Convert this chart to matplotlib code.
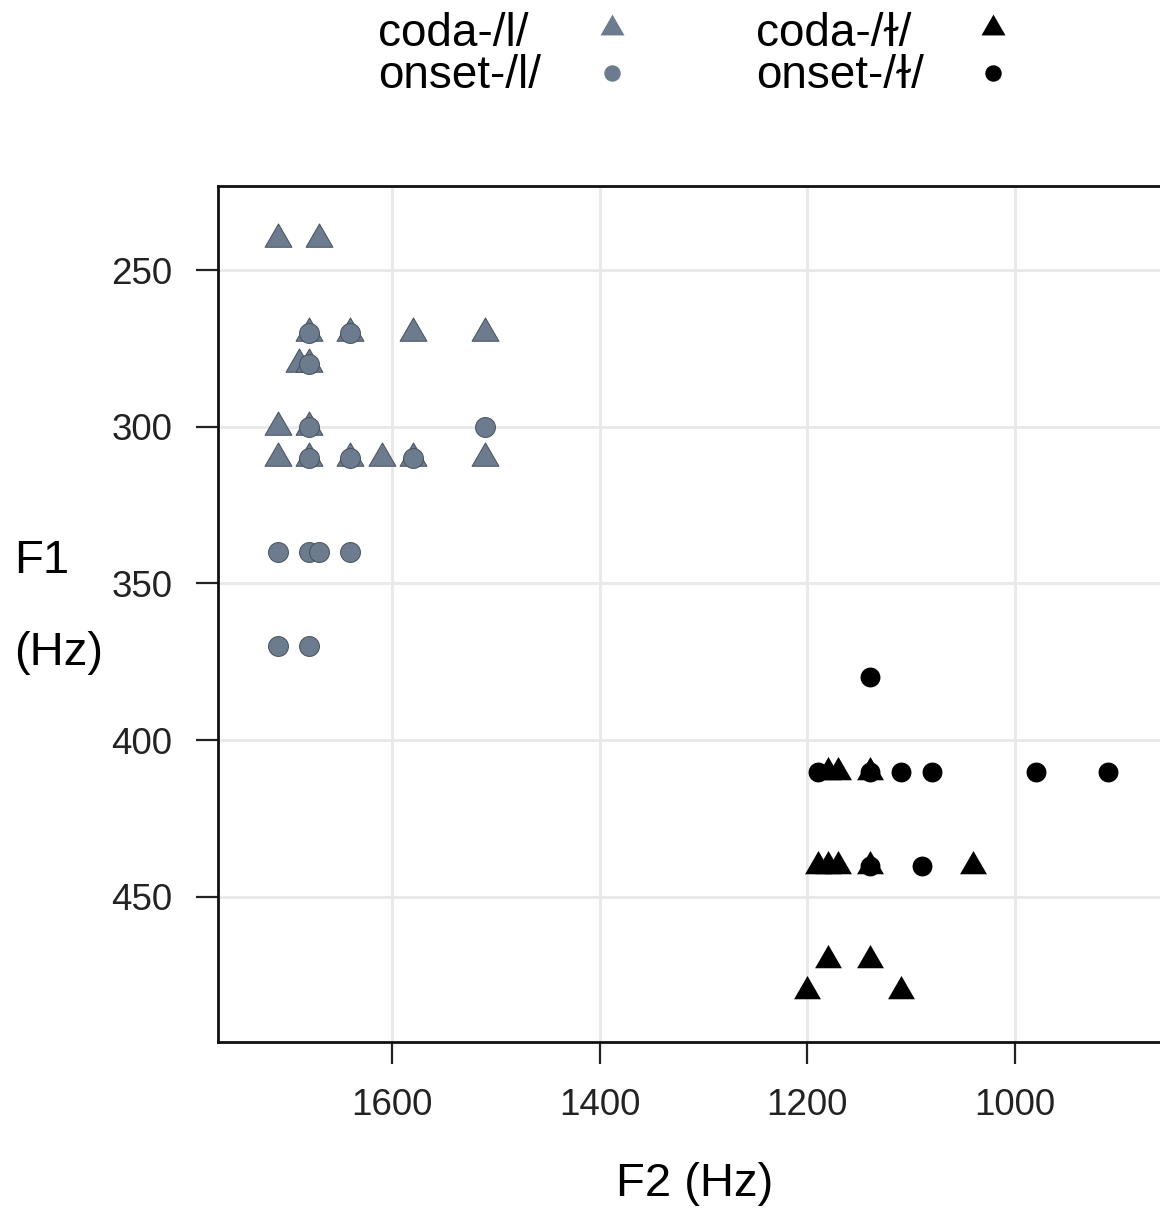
import matplotlib
matplotlib.use("Agg")
import matplotlib.pyplot as plt
from matplotlib.path import Path
from matplotlib.markers import MarkerStyle
import numpy as np

plt.rcParams['font.family'] = ['Liberation Sans', 'DejaVu Sans']

# ---- data (F2, F1 in Hz) ----
coda_l_F2 = [1710, 1670, 1680, 1640, 1580, 1510, 1690, 1680, 1710, 1680,
             1710, 1680, 1640, 1610, 1580, 1510]
coda_l_F1 = [240, 240, 270, 270, 270, 270, 280, 280, 300, 300,
             310, 310, 310, 310, 310, 310]

onset_l_F2 = [1680, 1640, 1680, 1680, 1510, 1680, 1640, 1580,
              1710, 1680, 1670, 1640, 1710, 1680]
onset_l_F1 = [270, 270, 280, 300, 300, 310, 310, 310,
              340, 340, 340, 340, 370, 370]

coda_dark_F2 = [1180, 1170, 1140, 1190, 1180, 1170, 1140, 1040,
                1180, 1140, 1200, 1110]
coda_dark_F1 = [410, 410, 410, 440, 440, 440, 440, 440,
                470, 470, 480, 480]

onset_dark_F2 = [1140, 1190, 1140, 1110, 1080, 980, 910, 1140, 1090]
onset_dark_F1 = [380, 410, 410, 410, 410, 410, 410, 440, 440]

x_ticks = [1600, 1400, 1200, 1000]
y_ticks = [250, 300, 350, 400, 450]
legend_labels = ["coda-/l/", "onset-/l/", "coda-/ɫ/", "onset-/ɫ/"]

GRAY = '#6c7b8d'
GRAY_EDGE = '#46515e'

tri = MarkerStyle(Path([(-1, -0.5774), (1, -0.5774), (0, 1.1547), (-1, -0.5774)],
                       [Path.MOVETO, Path.LINETO, Path.LINETO, Path.CLOSEPOLY]))

W, H = 1160, 1211
fig = plt.figure(figsize=(W / 100, H / 100), dpi=100)

left_px, right_px, top_px, bot_px = 218, 1172, 186, 1042
ax = fig.add_axes([left_px / W, 1 - bot_px / H, (right_px - left_px) / W, (bot_px - top_px) / H])

ax.set_xlim(1767.6, 848.8)
ax.set_ylim(496.3, 223.2)

ax.set_xticks(x_ticks)
ax.set_yticks(y_ticks)
ax.grid(True, color='#e8e8e8', linewidth=2.0, zorder=0)
ax.set_axisbelow(True)
for sp in ax.spines.values():
    sp.set_linewidth(2.0)
    sp.set_color('#111111')
ax.tick_params(axis='both', length=16, width=1.6, color='#222222', pad=17,
               labelsize=26.5, labelcolor='#222222')

ax.scatter(coda_l_F2, coda_l_F1, marker=tri, s=500, c=GRAY, edgecolors=GRAY_EDGE,
           linewidths=0.7, zorder=3)
ax.scatter(onset_l_F2, onset_l_F1, marker='o', s=205, c=GRAY, edgecolors=GRAY_EDGE,
           linewidths=0.7, zorder=4)
ax.scatter(coda_dark_F2, coda_dark_F1, marker=tri, s=500, c='black', linewidths=0, zorder=3)
ax.scatter(onset_dark_F2, onset_dark_F1, marker='o', s=205, c='black', linewidths=0, zorder=4)

ax.set_xlabel("F2 (Hz)", fontsize=34, labelpad=28)

# y label: two lines, horizontal, at left
fig.text(14 / W, 1 - 573 / H, "F1", fontsize=34, ha='left', va='baseline')
fig.text(14 / W, 1 - 665 / H, "(Hz)", fontsize=34, ha='left', va='baseline')

# legend (manual)
lax = fig.add_axes([0, 0, 1, 1], facecolor='none')
lax.set_xlim(0, W)
lax.set_ylim(H, 0)
lax.axis('off')
leg_text_x = [378, 378, 756, 756]
leg_text_base = [46, 88, 46, 88]
leg_key_x = [612, 612, 993, 993]
leg_key_y = [28, 73, 28, 73]
leg_colors = [GRAY, GRAY, 'black', 'black']
leg_markers = [tri, 'o', tri, 'o']
leg_sizes = [400, 140, 400, 140]
for lab, tx, ty, kx, ky, col, mk, sz in zip(legend_labels, leg_text_x, leg_text_base,
                                            leg_key_x, leg_key_y, leg_colors, leg_markers, leg_sizes):
    lax.text(tx, ty, lab, fontsize=33, ha='left', va='baseline')
    lax.scatter([kx], [ky], marker=mk, s=sz, c=col, linewidths=0)

fig.savefig("out.png", dpi=100)
